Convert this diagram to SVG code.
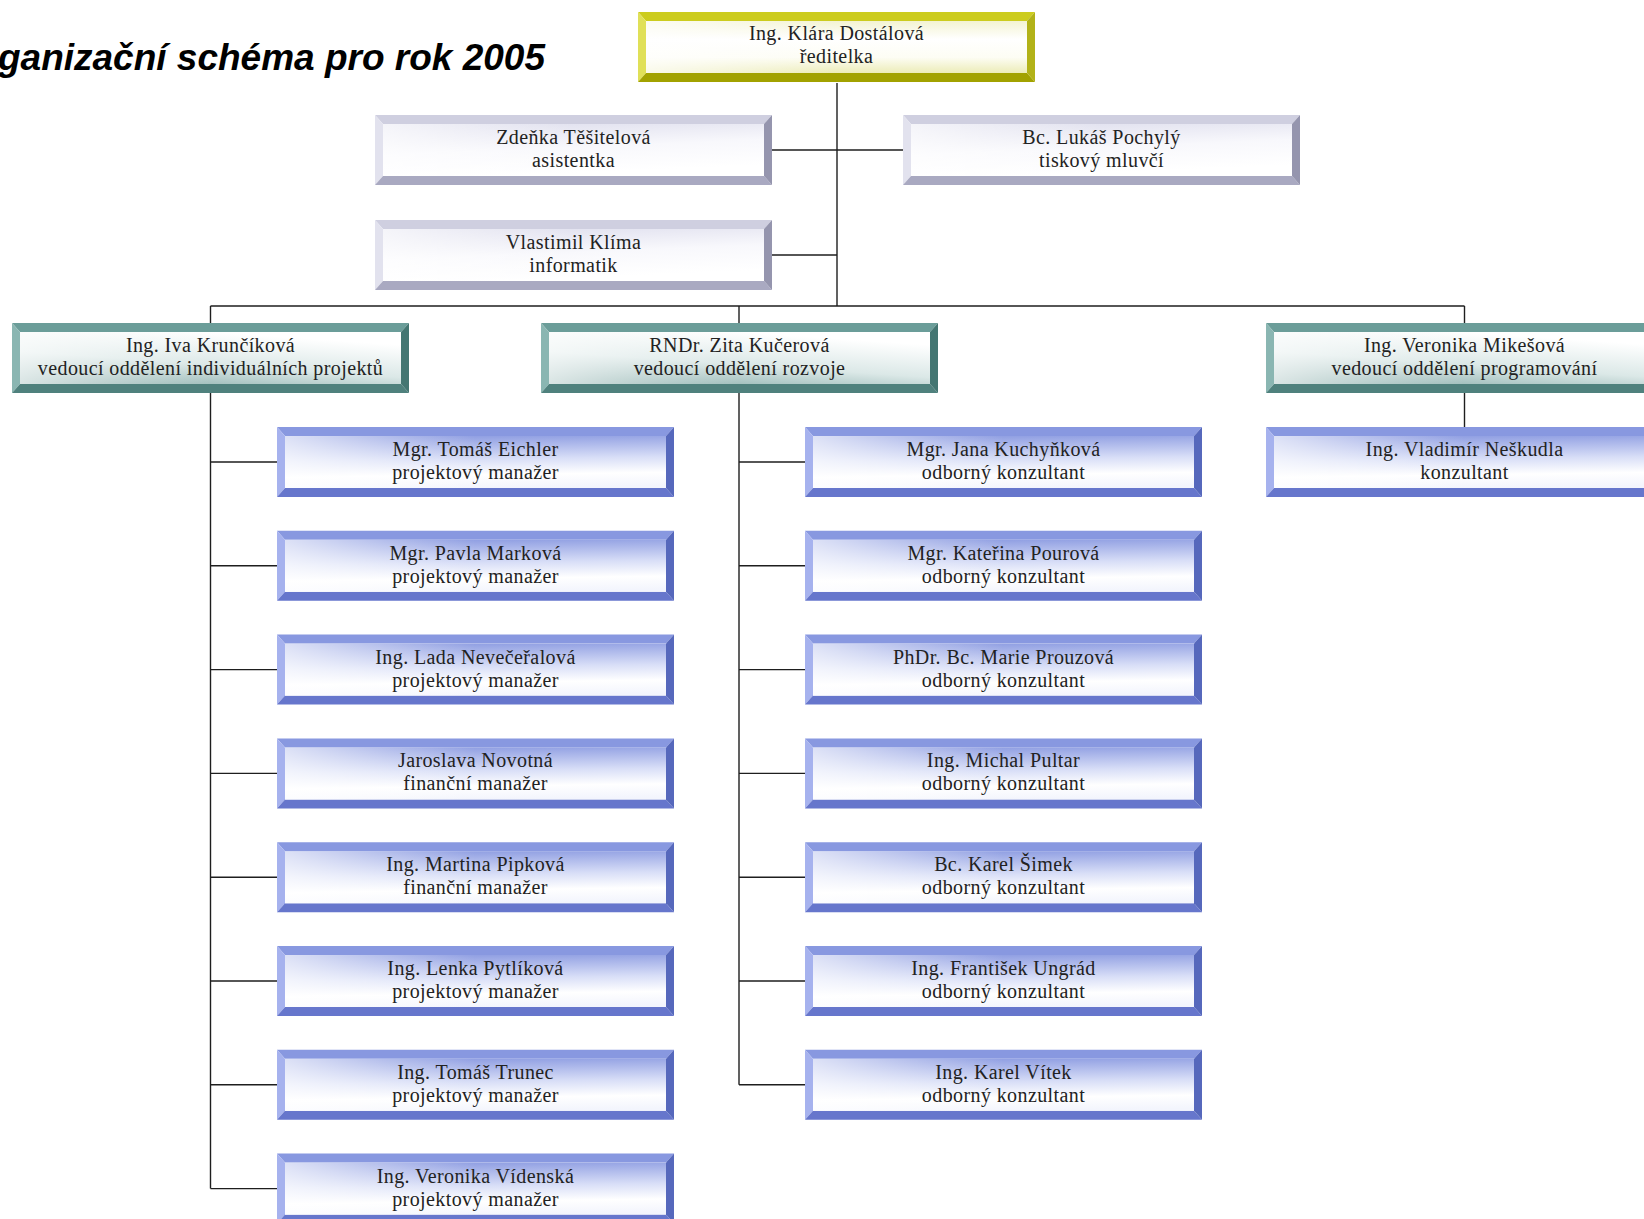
<svg xmlns="http://www.w3.org/2000/svg" width="1644" height="1219" viewBox="0 0 1644 1219">
<style>
.yellow .t{fill:#cccc1e} .yellow .l{fill:#e0e058} .yellow .b{fill:#a2a200} .yellow .r{fill:#b2b218} .yellow .f{fill:url(#gYellow)}
.gray .t{fill:#cfcfe0} .gray .l{fill:#e2e2ee} .gray .b{fill:#a9a9c1} .gray .r{fill:#9595ae} .gray .f{fill:url(#gGray)}
.teal .t{fill:#6b9d99} .teal .l{fill:#8ab6b2} .teal .b{fill:#4f817d} .teal .r{fill:#447672} .teal .f{fill:url(#gTeal)}
.blue .t{fill:#8898e0} .blue .l{fill:#a6b2ee} .blue .b{fill:#6676cc} .blue .r{fill:#5668bc} .blue .f{fill:url(#gBlue)}
.hl{fill:url(#gHl)}
text.n{font-family:"Liberation Serif","Times New Roman",serif;font-size:20px;letter-spacing:0.4px;fill:#222;text-anchor:middle}
.title{font-family:"Liberation Sans",Arial,sans-serif;font-size:37px;font-weight:bold;font-style:italic;fill:#000}
.conn line{stroke:#1e1e1e;stroke-width:1.4}
</style>
<defs>
<linearGradient id="gYellow" x1="0" y1="0" x2="0" y2="1">
<stop offset="0" stop-color="#f3f3d2"/><stop offset="0.35" stop-color="#ffffff"/><stop offset="0.7" stop-color="#fdfdf4"/><stop offset="1" stop-color="#ececb8"/>
</linearGradient>
<linearGradient id="gGray" x1="0" y1="0" x2="0.3" y2="1">
<stop offset="0" stop-color="#dcdcec"/><stop offset="0.55" stop-color="#f8f8fc"/><stop offset="1" stop-color="#ffffff"/>
</linearGradient>
<linearGradient id="gTeal" x1="0" y1="1" x2="0.5" y2="0">
<stop offset="0" stop-color="#80a7a4"/><stop offset="0.5" stop-color="#dbe8e7"/><stop offset="1" stop-color="#ffffff"/>
</linearGradient>
<linearGradient id="gBlue" x1="0.4" y1="0" x2="0.5" y2="1">
<stop offset="0" stop-color="#8f9ee2"/><stop offset="0.45" stop-color="#d8def7"/><stop offset="0.75" stop-color="#ffffff"/><stop offset="1" stop-color="#f3f5fd"/>
</linearGradient>
<linearGradient id="gHl" x1="0" y1="0" x2="1" y2="0">
<stop offset="0" stop-color="#ffffff" stop-opacity="0.7"/><stop offset="0.5" stop-color="#ffffff" stop-opacity="0"/>
</linearGradient>
</defs>
<rect width="1644" height="1219" fill="#ffffff"/>
<text class="title" x="545" y="70" text-anchor="end">ganizační schéma pro rok 2005</text>

<g class="conn" id="connectors">
<line x1="837" y1="83" x2="837" y2="306"/>
<line x1="772" y1="150" x2="903" y2="150"/>
<line x1="772" y1="255" x2="837" y2="255"/>
<line x1="210.5" y1="306" x2="1464.5" y2="306"/>
<line x1="210.5" y1="306" x2="210.5" y2="323"/>
<line x1="739" y1="306" x2="739" y2="323"/>
<line x1="1464.5" y1="306" x2="1464.5" y2="323"/>
<line x1="210.5" y1="393" x2="210.5" y2="1188.6"/>
<line x1="210.5" y1="462" x2="277" y2="462"/>
<line x1="210.5" y1="565.8" x2="277" y2="565.8"/>
<line x1="210.5" y1="669.6" x2="277" y2="669.6"/>
<line x1="210.5" y1="773.4" x2="277" y2="773.4"/>
<line x1="210.5" y1="877.2" x2="277" y2="877.2"/>
<line x1="210.5" y1="981" x2="277" y2="981"/>
<line x1="210.5" y1="1084.8" x2="277" y2="1084.8"/>
<line x1="210.5" y1="1188.6" x2="277" y2="1188.6"/>
<line x1="739" y1="393" x2="739" y2="1084.8"/>
<line x1="739" y1="462" x2="805" y2="462"/>
<line x1="739" y1="565.8" x2="805" y2="565.8"/>
<line x1="739" y1="669.6" x2="805" y2="669.6"/>
<line x1="739" y1="773.4" x2="805" y2="773.4"/>
<line x1="739" y1="877.2" x2="805" y2="877.2"/>
<line x1="739" y1="981" x2="805" y2="981"/>
<line x1="739" y1="1084.8" x2="805" y2="1084.8"/>
<line x1="1464.5" y1="393" x2="1464.5" y2="427"/>
</g>

<g id="n-dostalova" class="yellow" transform="translate(638,12)"><polygon class="t" points="0,0 397,0 389,9 8,9"/><polygon class="l" points="0,0 8,9 8,61 0,70"/><polygon class="b" points="0,70 8,61 389,61 397,70"/><polygon class="r" points="397,0 397,70 389,61 389,9"/><rect class="f" x="8" y="9" width="381" height="52"/><rect class="hl" x="8" y="9" width="381" height="52"/><text class="n" x="198.5" y="28">Ing. Klára Dostálová</text><text class="n" x="198.5" y="51">ředitelka</text></g>
<g id="n-tesitelova" class="gray" transform="translate(375,115)"><polygon class="t" points="0,0 397,0 389,9 8,9"/><polygon class="l" points="0,0 8,9 8,61 0,70"/><polygon class="b" points="0,70 8,61 389,61 397,70"/><polygon class="r" points="397,0 397,70 389,61 389,9"/><rect class="f" x="8" y="9" width="381" height="52"/><rect class="hl" x="8" y="9" width="381" height="52"/><text class="n" x="198.5" y="29">Zdeňka Těšitelová</text><text class="n" x="198.5" y="52">asistentka</text></g>
<g id="n-pochyly" class="gray" transform="translate(903,115)"><polygon class="t" points="0,0 397,0 389,9 8,9"/><polygon class="l" points="0,0 8,9 8,61 0,70"/><polygon class="b" points="0,70 8,61 389,61 397,70"/><polygon class="r" points="397,0 397,70 389,61 389,9"/><rect class="f" x="8" y="9" width="381" height="52"/><rect class="hl" x="8" y="9" width="381" height="52"/><text class="n" x="198.5" y="29">Bc. Lukáš Pochylý</text><text class="n" x="198.5" y="52">tiskový mluvčí</text></g>
<g id="n-klima" class="gray" transform="translate(375,220)"><polygon class="t" points="0,0 397,0 389,9 8,9"/><polygon class="l" points="0,0 8,9 8,61 0,70"/><polygon class="b" points="0,70 8,61 389,61 397,70"/><polygon class="r" points="397,0 397,70 389,61 389,9"/><rect class="f" x="8" y="9" width="381" height="52"/><rect class="hl" x="8" y="9" width="381" height="52"/><text class="n" x="198.5" y="29">Vlastimil Klíma</text><text class="n" x="198.5" y="52">informatik</text></g>

<g id="n-kruncikova" class="teal" transform="translate(12,323)"><polygon class="t" points="0,0 397,0 389,9 8,9"/><polygon class="l" points="0,0 8,9 8,61 0,70"/><polygon class="b" points="0,70 8,61 389,61 397,70"/><polygon class="r" points="397,0 397,70 389,61 389,9"/><rect class="f" x="8" y="9" width="381" height="52"/><rect class="hl" x="8" y="9" width="381" height="52"/><text class="n" x="198.5" y="29">Ing. Iva Krunčíková</text><text class="n" x="198.5" y="52">vedoucí oddělení individuálních projektů</text></g>
<g id="n-kucerova" class="teal" transform="translate(541,323)"><polygon class="t" points="0,0 397,0 389,9 8,9"/><polygon class="l" points="0,0 8,9 8,61 0,70"/><polygon class="b" points="0,70 8,61 389,61 397,70"/><polygon class="r" points="397,0 397,70 389,61 389,9"/><rect class="f" x="8" y="9" width="381" height="52"/><rect class="hl" x="8" y="9" width="381" height="52"/><text class="n" x="198.5" y="29">RNDr. Zita Kučerová</text><text class="n" x="198.5" y="52">vedoucí oddělení rozvoje</text></g>
<g id="n-mikesova" class="teal" transform="translate(1266,323)"><polygon class="t" points="0,0 397,0 389,9 8,9"/><polygon class="l" points="0,0 8,9 8,61 0,70"/><polygon class="b" points="0,70 8,61 389,61 397,70"/><polygon class="r" points="397,0 397,70 389,61 389,9"/><rect class="f" x="8" y="9" width="381" height="52"/><rect class="hl" x="8" y="9" width="381" height="52"/><text class="n" x="198.5" y="29">Ing. Veronika Mikešová</text><text class="n" x="198.5" y="52">vedoucí oddělení programování</text></g>

<g id="n-eichler" class="blue" transform="translate(277,427)"><polygon class="t" points="0,0 397,0 389,9 8,9"/><polygon class="l" points="0,0 8,9 8,61 0,70"/><polygon class="b" points="0,70 8,61 389,61 397,70"/><polygon class="r" points="397,0 397,70 389,61 389,9"/><rect class="f" x="8" y="9" width="381" height="52"/><rect class="hl" x="8" y="9" width="381" height="52"/><text class="n" x="198.5" y="29">Mgr. Tomáš Eichler</text><text class="n" x="198.5" y="52">projektový manažer</text></g>
<g id="n-markova" class="blue" transform="translate(277,530.8)"><polygon class="t" points="0,0 397,0 389,9 8,9"/><polygon class="l" points="0,0 8,9 8,61 0,70"/><polygon class="b" points="0,70 8,61 389,61 397,70"/><polygon class="r" points="397,0 397,70 389,61 389,9"/><rect class="f" x="8" y="9" width="381" height="52"/><rect class="hl" x="8" y="9" width="381" height="52"/><text class="n" x="198.5" y="29">Mgr. Pavla Marková</text><text class="n" x="198.5" y="52">projektový manažer</text></g>
<g id="n-neveceralova" class="blue" transform="translate(277,634.6)"><polygon class="t" points="0,0 397,0 389,9 8,9"/><polygon class="l" points="0,0 8,9 8,61 0,70"/><polygon class="b" points="0,70 8,61 389,61 397,70"/><polygon class="r" points="397,0 397,70 389,61 389,9"/><rect class="f" x="8" y="9" width="381" height="52"/><rect class="hl" x="8" y="9" width="381" height="52"/><text class="n" x="198.5" y="29">Ing. Lada Nevečeřalová</text><text class="n" x="198.5" y="52">projektový manažer</text></g>
<g id="n-novotna" class="blue" transform="translate(277,738.4)"><polygon class="t" points="0,0 397,0 389,9 8,9"/><polygon class="l" points="0,0 8,9 8,61 0,70"/><polygon class="b" points="0,70 8,61 389,61 397,70"/><polygon class="r" points="397,0 397,70 389,61 389,9"/><rect class="f" x="8" y="9" width="381" height="52"/><rect class="hl" x="8" y="9" width="381" height="52"/><text class="n" x="198.5" y="29">Jaroslava Novotná</text><text class="n" x="198.5" y="52">finanční manažer</text></g>
<g id="n-pipkova" class="blue" transform="translate(277,842.2)"><polygon class="t" points="0,0 397,0 389,9 8,9"/><polygon class="l" points="0,0 8,9 8,61 0,70"/><polygon class="b" points="0,70 8,61 389,61 397,70"/><polygon class="r" points="397,0 397,70 389,61 389,9"/><rect class="f" x="8" y="9" width="381" height="52"/><rect class="hl" x="8" y="9" width="381" height="52"/><text class="n" x="198.5" y="29">Ing. Martina Pipková</text><text class="n" x="198.5" y="52">finanční manažer</text></g>
<g id="n-pytlikova" class="blue" transform="translate(277,946)"><polygon class="t" points="0,0 397,0 389,9 8,9"/><polygon class="l" points="0,0 8,9 8,61 0,70"/><polygon class="b" points="0,70 8,61 389,61 397,70"/><polygon class="r" points="397,0 397,70 389,61 389,9"/><rect class="f" x="8" y="9" width="381" height="52"/><rect class="hl" x="8" y="9" width="381" height="52"/><text class="n" x="198.5" y="29">Ing. Lenka Pytlíková</text><text class="n" x="198.5" y="52">projektový manažer</text></g>
<g id="n-trunec" class="blue" transform="translate(277,1049.8)"><polygon class="t" points="0,0 397,0 389,9 8,9"/><polygon class="l" points="0,0 8,9 8,61 0,70"/><polygon class="b" points="0,70 8,61 389,61 397,70"/><polygon class="r" points="397,0 397,70 389,61 389,9"/><rect class="f" x="8" y="9" width="381" height="52"/><rect class="hl" x="8" y="9" width="381" height="52"/><text class="n" x="198.5" y="29">Ing. Tomáš Trunec</text><text class="n" x="198.5" y="52">projektový manažer</text></g>
<g id="n-videnska" class="blue" transform="translate(277,1153.6)"><polygon class="t" points="0,0 397,0 389,9 8,9"/><polygon class="l" points="0,0 8,9 8,61 0,70"/><polygon class="b" points="0,70 8,61 389,61 397,70"/><polygon class="r" points="397,0 397,70 389,61 389,9"/><rect class="f" x="8" y="9" width="381" height="52"/><rect class="hl" x="8" y="9" width="381" height="52"/><text class="n" x="198.5" y="29">Ing. Veronika Vídenská</text><text class="n" x="198.5" y="52">projektový manažer</text></g>

<g id="n-kuchynkova" class="blue" transform="translate(805,427)"><polygon class="t" points="0,0 397,0 389,9 8,9"/><polygon class="l" points="0,0 8,9 8,61 0,70"/><polygon class="b" points="0,70 8,61 389,61 397,70"/><polygon class="r" points="397,0 397,70 389,61 389,9"/><rect class="f" x="8" y="9" width="381" height="52"/><rect class="hl" x="8" y="9" width="381" height="52"/><text class="n" x="198.5" y="29">Mgr. Jana Kuchyňková</text><text class="n" x="198.5" y="52">odborný konzultant</text></g>
<g id="n-pourova" class="blue" transform="translate(805,530.8)"><polygon class="t" points="0,0 397,0 389,9 8,9"/><polygon class="l" points="0,0 8,9 8,61 0,70"/><polygon class="b" points="0,70 8,61 389,61 397,70"/><polygon class="r" points="397,0 397,70 389,61 389,9"/><rect class="f" x="8" y="9" width="381" height="52"/><rect class="hl" x="8" y="9" width="381" height="52"/><text class="n" x="198.5" y="29">Mgr. Kateřina Pourová</text><text class="n" x="198.5" y="52">odborný konzultant</text></g>
<g id="n-prouzova" class="blue" transform="translate(805,634.6)"><polygon class="t" points="0,0 397,0 389,9 8,9"/><polygon class="l" points="0,0 8,9 8,61 0,70"/><polygon class="b" points="0,70 8,61 389,61 397,70"/><polygon class="r" points="397,0 397,70 389,61 389,9"/><rect class="f" x="8" y="9" width="381" height="52"/><rect class="hl" x="8" y="9" width="381" height="52"/><text class="n" x="198.5" y="29">PhDr. Bc. Marie Prouzová</text><text class="n" x="198.5" y="52">odborný konzultant</text></g>
<g id="n-pultar" class="blue" transform="translate(805,738.4)"><polygon class="t" points="0,0 397,0 389,9 8,9"/><polygon class="l" points="0,0 8,9 8,61 0,70"/><polygon class="b" points="0,70 8,61 389,61 397,70"/><polygon class="r" points="397,0 397,70 389,61 389,9"/><rect class="f" x="8" y="9" width="381" height="52"/><rect class="hl" x="8" y="9" width="381" height="52"/><text class="n" x="198.5" y="29">Ing. Michal Pultar</text><text class="n" x="198.5" y="52">odborný konzultant</text></g>
<g id="n-simek" class="blue" transform="translate(805,842.2)"><polygon class="t" points="0,0 397,0 389,9 8,9"/><polygon class="l" points="0,0 8,9 8,61 0,70"/><polygon class="b" points="0,70 8,61 389,61 397,70"/><polygon class="r" points="397,0 397,70 389,61 389,9"/><rect class="f" x="8" y="9" width="381" height="52"/><rect class="hl" x="8" y="9" width="381" height="52"/><text class="n" x="198.5" y="29">Bc. Karel Šimek</text><text class="n" x="198.5" y="52">odborný konzultant</text></g>
<g id="n-ungrad" class="blue" transform="translate(805,946)"><polygon class="t" points="0,0 397,0 389,9 8,9"/><polygon class="l" points="0,0 8,9 8,61 0,70"/><polygon class="b" points="0,70 8,61 389,61 397,70"/><polygon class="r" points="397,0 397,70 389,61 389,9"/><rect class="f" x="8" y="9" width="381" height="52"/><rect class="hl" x="8" y="9" width="381" height="52"/><text class="n" x="198.5" y="29">Ing. František Ungrád</text><text class="n" x="198.5" y="52">odborný konzultant</text></g>
<g id="n-vitek" class="blue" transform="translate(805,1049.8)"><polygon class="t" points="0,0 397,0 389,9 8,9"/><polygon class="l" points="0,0 8,9 8,61 0,70"/><polygon class="b" points="0,70 8,61 389,61 397,70"/><polygon class="r" points="397,0 397,70 389,61 389,9"/><rect class="f" x="8" y="9" width="381" height="52"/><rect class="hl" x="8" y="9" width="381" height="52"/><text class="n" x="198.5" y="29">Ing. Karel Vítek</text><text class="n" x="198.5" y="52">odborný konzultant</text></g>

<g id="n-neskudla" class="blue" transform="translate(1266,427)"><polygon class="t" points="0,0 397,0 389,9 8,9"/><polygon class="l" points="0,0 8,9 8,61 0,70"/><polygon class="b" points="0,70 8,61 389,61 397,70"/><polygon class="r" points="397,0 397,70 389,61 389,9"/><rect class="f" x="8" y="9" width="381" height="52"/><rect class="hl" x="8" y="9" width="381" height="52"/><text class="n" x="198.5" y="29">Ing. Vladimír Neškudla</text><text class="n" x="198.5" y="52">konzultant</text></g>
</svg>
